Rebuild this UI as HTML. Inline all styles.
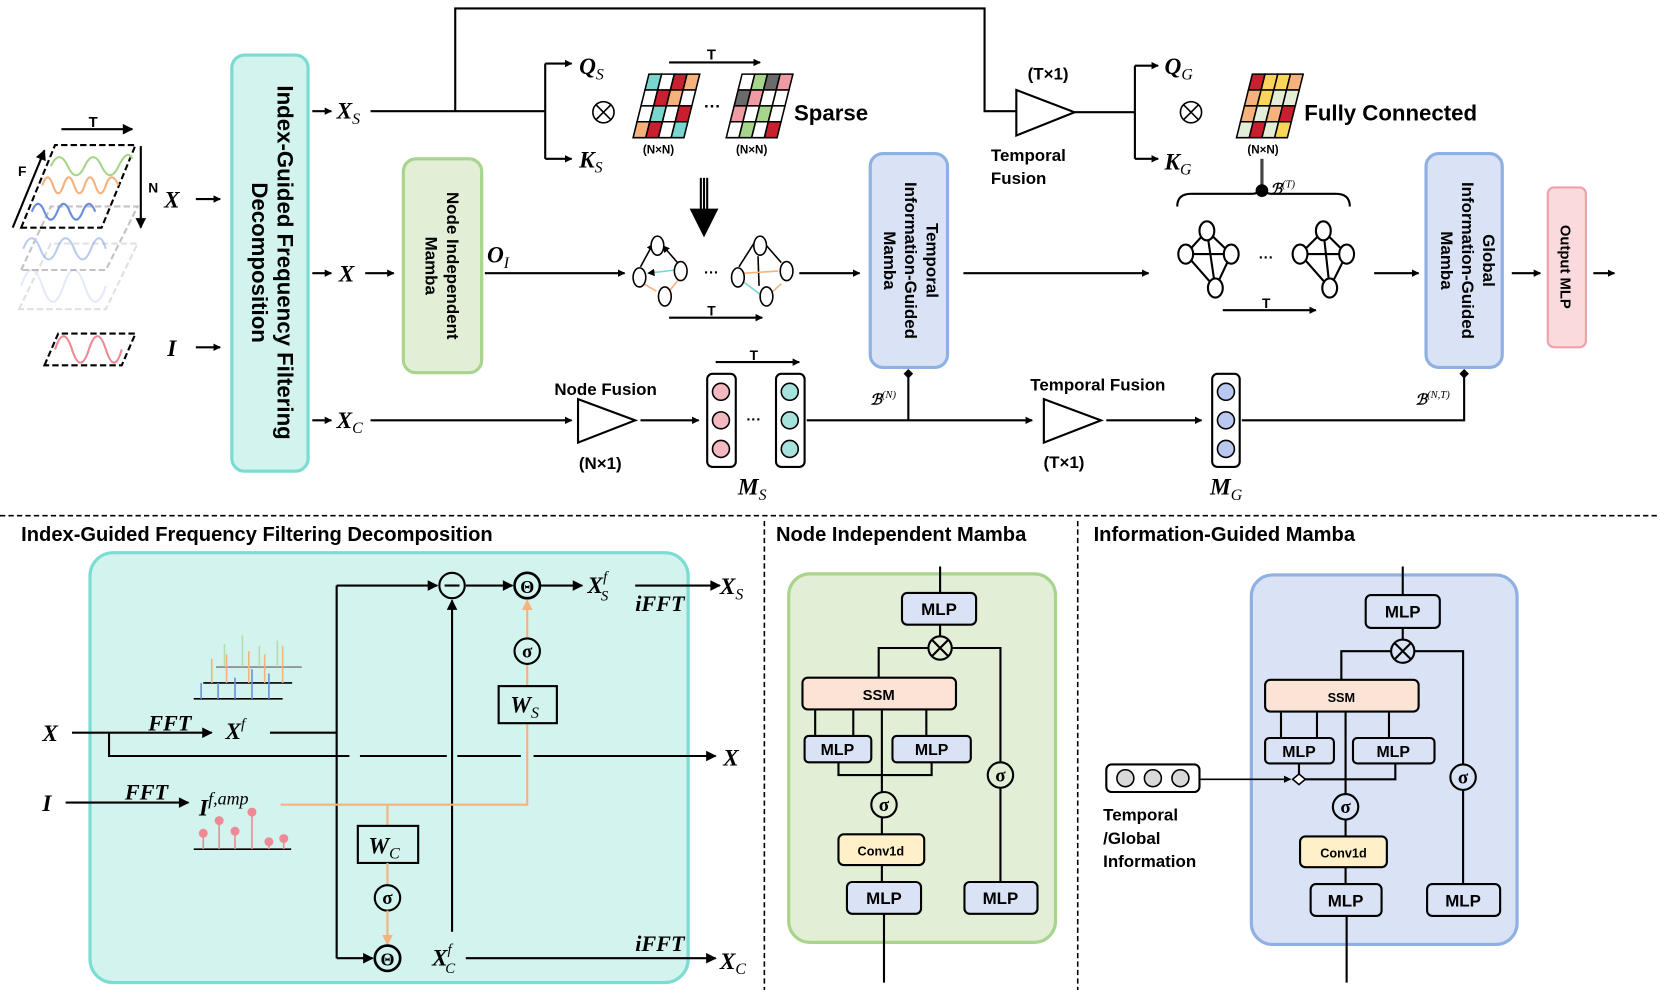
<!DOCTYPE html>
<html><head><meta charset="utf-8"><style>
html,body{margin:0;padding:0;background:#fff}
svg{display:block}
.b{font-family:"Liberation Sans",sans-serif;font-weight:bold}
.m{font-family:"Liberation Serif",serif;font-style:italic;font-weight:bold}
</style></head><body>
<svg width="1660" height="990" viewBox="0 0 1568 935" preserveAspectRatio="none" xmlns="http://www.w3.org/2000/svg">
<defs>
<marker id="a" viewBox="0 0 10 10" refX="9" refY="5" markerWidth="7" markerHeight="7" orient="auto" markerUnits="userSpaceOnUse"><path d="M0,0L10,5L0,10z" fill="#000"/></marker>
<marker id="ab" viewBox="0 0 10 10" refX="9" refY="5" markerWidth="12" markerHeight="10" orient="auto" markerUnits="userSpaceOnUse"><path d="M0,0L10,5L0,10z" fill="#000"/></marker>
<marker id="ao" viewBox="0 0 10 10" refX="9" refY="5" markerWidth="11" markerHeight="10" orient="auto" markerUnits="userSpaceOnUse"><path d="M0,0L10,5L0,10z" fill="#f5b27c"/></marker>
<marker id="dm" viewBox="0 0 10 10" refX="5" refY="5" markerWidth="9" markerHeight="9" orient="auto" markerUnits="userSpaceOnUse"><path d="M0,5L5,0L10,5L5,10z" fill="#000"/></marker>
</defs>
<g stroke="#000" stroke-width="2" fill="none">

<!-- input stack -->
<g stroke-width="2">
<line x1="58" y1="122" x2="125" y2="122" marker-end="url(#ab)"/>
<line x1="133" y1="138" x2="133" y2="215" marker-end="url(#ab)"/>
<line x1="12" y1="215" x2="42" y2="142" marker-end="url(#ab)"/>
<g opacity="0.25" stroke="#888"><path d="M18,292 L48,230 L130,230 L100,292z" stroke-dasharray="6 3"/><path d="M20,270 Q30,240 40,270 T60,270 T80,270 T100,270" stroke="#9ab0e6"/></g>
<g opacity="0.5" stroke="#888"><path d="M20,255 L48,195 L130,195 L100,255z" stroke-dasharray="6 3"/><path d="M22,235 Q30,215 38,235 T54,235 T70,235 T86,235 T100,235" stroke="#7a98e0"/></g>
<path d="M20,215 L52,137 L128,137 L96,215z" stroke-dasharray="6 3"/>
<path d="M48,157 Q56,140 64,157 T80,157 T96,157 T112,157 T125,150" stroke="#a7d58c"/>
<path d="M40,175 Q45,160 50,175 T60,175 T70,175 T80,175 T90,175 T100,175 T112,175" stroke="#f5b27c"/>
<path d="M30,200 Q36,185 42,200 T54,200 T66,200 T78,200 T90,200" stroke="#6a8ede"/>
<path d="M42,345 L55,315 L128,315 L115,345z" stroke-dasharray="6 3"/>
<path d="M52,330 Q60,305 68,330 T84,330 T100,330 T115,330" stroke="#ee8a96"/>
</g>
<line x1="185" y1="188" x2="208" y2="188" marker-end="url(#a)"/>
<line x1="185" y1="328" x2="208" y2="328" marker-end="url(#a)"/>

<!-- big boxes -->
<rect x="219" y="52" width="72" height="393" rx="12" fill="#d3f3ee" stroke="#7adcd3" stroke-width="3"/>
<rect x="381" y="150" width="74" height="202" rx="12" fill="#e2efd6" stroke="#a9d48c" stroke-width="3"/>
<rect x="822" y="145" width="73" height="202" rx="12" fill="#dae3f5" stroke="#8fb0e3" stroke-width="3"/>
<rect x="1347" y="145" width="72" height="202" rx="12" fill="#dae3f5" stroke="#8fb0e3" stroke-width="3"/>
<rect x="1462" y="177" width="36" height="151" rx="6" fill="#fadadd" stroke="#f0a0a8" stroke-width="2"/>

<line x1="295" y1="105" x2="313" y2="105" marker-end="url(#a)"/>
<line x1="295" y1="258" x2="313" y2="258" marker-end="url(#a)"/>
<line x1="295" y1="397" x2="313" y2="397" marker-end="url(#a)"/>
<line x1="345" y1="258" x2="372" y2="258" marker-end="url(#a)"/>

<!-- Xs path -->
<path d="M350,105 H515"/>
<path d="M515,60 V150"/>
<line x1="515" y1="60" x2="540" y2="60" marker-end="url(#a)"/>
<line x1="515" y1="150" x2="540" y2="150" marker-end="url(#a)"/>
<path d="M430,105 V8 H930 V105 H960"/>
<path d="M960,85 L1015,106 L960,128z" fill="#fff"/>
<path d="M1015,106 H1072 M1072,62 V150"/>
<line x1="1072" y1="62" x2="1094" y2="62" marker-end="url(#a)"/>
<line x1="1072" y1="150" x2="1094" y2="150" marker-end="url(#a)"/>
<circle cx="570" cy="106" r="10" stroke-width="1.5"/><path d="M563,99 L577,113 M577,99 L563,113" stroke-width="1.5"/>
<circle cx="1125" cy="106" r="10" stroke-width="1.5"/><path d="M1118,99 L1132,113 M1132,99 L1118,113" stroke-width="1.5"/>
<line x1="632" y1="59" x2="718" y2="59" marker-end="url(#a)"/>

<!-- matrices -->
<g transform="translate(598,130) skewX(-14)" stroke-width="1.5">
<rect x="0" y="-60" width="12" height="15" fill="#78d6cf"/><rect x="12" y="-60" width="12" height="15" fill="#fff"/><rect x="24" y="-60" width="12" height="15" fill="#c8202f"/><rect x="36" y="-60" width="12" height="15" fill="#f5b27c"/>
<rect x="0" y="-45" width="12" height="15" fill="#fff"/><rect x="12" y="-45" width="12" height="15" fill="#c8202f"/><rect x="24" y="-45" width="12" height="15" fill="#f5b27c"/><rect x="36" y="-45" width="12" height="15" fill="#fff"/>
<rect x="0" y="-30" width="12" height="15" fill="#fff"/><rect x="12" y="-30" width="12" height="15" fill="#78d6cf"/><rect x="24" y="-30" width="12" height="15" fill="#fff"/><rect x="36" y="-30" width="12" height="15" fill="#c8202f"/>
<rect x="0" y="-15" width="12" height="15" fill="#f5b27c"/><rect x="12" y="-15" width="12" height="15" fill="#c8202f"/><rect x="24" y="-15" width="12" height="15" fill="#fff"/><rect x="36" y="-15" width="12" height="15" fill="#78d6cf"/>
</g>
<g transform="translate(686,130) skewX(-14)" stroke-width="1.5">
<rect x="0" y="-60" width="12" height="15" fill="#fff"/><rect x="12" y="-60" width="12" height="15" fill="#a7d58c"/><rect x="24" y="-60" width="12" height="15" fill="#6b6b6b"/><rect x="36" y="-60" width="12" height="15" fill="#f09aa4"/>
<rect x="0" y="-45" width="12" height="15" fill="#6b6b6b"/><rect x="12" y="-45" width="12" height="15" fill="#f09aa4"/><rect x="24" y="-45" width="12" height="15" fill="#fff"/><rect x="36" y="-45" width="12" height="15" fill="#fff"/>
<rect x="0" y="-30" width="12" height="15" fill="#f09aa4"/><rect x="12" y="-30" width="12" height="15" fill="#fff"/><rect x="24" y="-30" width="12" height="15" fill="#a7d58c"/><rect x="36" y="-30" width="12" height="15" fill="#fff"/>
<rect x="0" y="-15" width="12" height="15" fill="#fff"/><rect x="12" y="-15" width="12" height="15" fill="#a7d58c"/><rect x="24" y="-15" width="12" height="15" fill="#fff"/><rect x="36" y="-15" width="12" height="15" fill="#c8202f"/>
</g>
<g transform="translate(1168,130) skewX(-14)" stroke-width="1.5">
<rect x="0" y="-60" width="12" height="15" fill="#c8202f"/><rect x="12" y="-60" width="12" height="15" fill="#fbd45a"/><rect x="24" y="-60" width="12" height="15" fill="#fbd45a"/><rect x="36" y="-60" width="12" height="15" fill="#f5b27c"/>
<rect x="0" y="-45" width="12" height="15" fill="#f5b27c"/><rect x="12" y="-45" width="12" height="15" fill="#fbd45a"/><rect x="24" y="-45" width="12" height="15" fill="#e2efd6"/><rect x="36" y="-45" width="12" height="15" fill="#e2efd6"/>
<rect x="0" y="-30" width="12" height="15" fill="#f5b27c"/><rect x="12" y="-30" width="12" height="15" fill="#e2efd6"/><rect x="24" y="-30" width="12" height="15" fill="#f5b27c"/><rect x="36" y="-30" width="12" height="15" fill="#c8202f"/>
<rect x="0" y="-15" width="12" height="15" fill="#e2efd6"/><rect x="12" y="-15" width="12" height="15" fill="#c8202f"/><rect x="24" y="-15" width="12" height="15" fill="#e2efd6"/><rect x="36" y="-15" width="12" height="15" fill="#fbd45a"/>
</g>

<!-- triple arrow -->
<path d="M662,168 V200 M665,168 V200 M668,168 V200"/>
<path d="M653,198 L677,198 L665,222z" fill="#000"/>

<!-- sparse graphs -->
<line x1="458" y1="258" x2="590" y2="258" marker-end="url(#a)"/>
<g stroke-width="1.5" fill="#fff">
<line x1="605" y1="252" x2="617" y2="230" marker-end="url(#a)"/><line x1="640" y1="248" x2="626" y2="232" marker-end="url(#a)"/>
<line x1="638" y1="255" x2="612" y2="258" stroke="#78d6cf" marker-end="url(#a)"/>
<line x1="608" y1="268" x2="620" y2="275" stroke="#f5b27c"/><line x1="640" y1="265" x2="633" y2="274" stroke="#f5b27c"/>
<ellipse cx="621" cy="232" rx="6" ry="9"/><ellipse cx="604" cy="262" rx="6" ry="9"/><ellipse cx="643" cy="256" rx="6" ry="9"/><ellipse cx="628" cy="280" rx="6" ry="9"/>
<line x1="698" y1="252" x2="712" y2="230"/><line x1="717" y1="270" x2="716" y2="242"/><line x1="738" y1="248" x2="724" y2="232"/>
<line x1="703" y1="258" x2="735" y2="256" stroke="#f5b27c"/><line x1="702" y1="266" x2="718" y2="278" stroke="#78d6cf"/><line x1="728" y1="277" x2="738" y2="268" stroke="#f5b27c"/>
<ellipse cx="718" cy="232" rx="6" ry="9"/><ellipse cx="697" cy="262" rx="6" ry="9"/><ellipse cx="743" cy="256" rx="6" ry="9"/><ellipse cx="724" cy="280" rx="6" ry="9"/>
</g>
<line x1="632" y1="300" x2="720" y2="300" marker-end="url(#a)"/>
<line x1="755" y1="258" x2="812" y2="258" marker-end="url(#a)"/>
<line x1="910" y1="258" x2="1085" y2="258" marker-end="url(#a)"/>

<!-- full graphs -->
<path d="M1112,195 Q1112,183 1125,183 H1183 Q1192,183 1192,172 Q1192,183 1201,183 H1262 Q1275,183 1275,195"/>
<line x1="1192" y1="150" x2="1192" y2="180" stroke-width="3" stroke="#444"/>
<circle cx="1192" cy="180" r="5" fill="#000"/>
<g stroke-width="2" fill="#fff">
<path d="M1120,240 L1140,218 L1163,240 L1148,272 Z M1120,240 L1163,240 M1140,218 L1148,272" />
<ellipse cx="1140" cy="218" rx="7" ry="9"/><ellipse cx="1120" cy="240" rx="7" ry="9"/><ellipse cx="1163" cy="240" rx="7" ry="9"/><ellipse cx="1148" cy="272" rx="7" ry="9"/>
<path d="M1228,240 L1250,218 L1272,240 L1256,272 Z M1228,240 L1272,240 M1250,218 L1256,272"/>
<ellipse cx="1250" cy="218" rx="7" ry="9"/><ellipse cx="1228" cy="240" rx="7" ry="9"/><ellipse cx="1272" cy="240" rx="7" ry="9"/><ellipse cx="1256" cy="272" rx="7" ry="9"/>
</g>
<line x1="1155" y1="293" x2="1243" y2="293" marker-end="url(#a)"/>
<line x1="1298" y1="258" x2="1340" y2="258" marker-end="url(#a)"/>
<line x1="1428" y1="258" x2="1455" y2="258" marker-end="url(#a)"/>
<line x1="1505" y1="258" x2="1525" y2="258" marker-end="url(#a)"/>

<!-- bottom row of top -->
<line x1="350" y1="397" x2="540" y2="397" marker-end="url(#a)"/>
<path d="M546,377 L600,397 L546,418z" fill="#fff"/>
<line x1="605" y1="397" x2="660" y2="397" marker-end="url(#a)"/>
<line x1="676" y1="342" x2="755" y2="342" marker-end="url(#a)"/>
<rect x="668" y="353" width="27" height="88" rx="5"/>
<rect x="733" y="353" width="27" height="88" rx="5"/>
<g stroke-width="1.5"><circle cx="681" cy="370" r="8" fill="#f4b8c0"/><circle cx="681" cy="397" r="8" fill="#f4b8c0"/><circle cx="681" cy="424" r="8" fill="#f4b8c0"/>
<circle cx="746" cy="370" r="8" fill="#a6e3dc"/><circle cx="746" cy="397" r="8" fill="#a6e3dc"/><circle cx="746" cy="424" r="8" fill="#a6e3dc"/></g>
<line x1="762" y1="397" x2="975" y2="397" marker-end="url(#a)"/>
<line x1="858" y1="397" x2="858" y2="353" marker-end="url(#dm)"/>
<path d="M986,377 L1040,397 L986,418z" fill="#fff"/>
<line x1="1045" y1="397" x2="1135" y2="397" marker-end="url(#a)"/>
<rect x="1145" y="353" width="26" height="88" rx="5"/>
<g stroke-width="1.5"><circle cx="1158" cy="370" r="8" fill="#b8c8ee"/><circle cx="1158" cy="397" r="8" fill="#b8c8ee"/><circle cx="1158" cy="424" r="8" fill="#b8c8ee"/></g>
<path d="M1173,397 H1383 V353" marker-end="url(#dm)"/>

<!-- dividers -->
<line x1="0" y1="487" x2="1568" y2="487" stroke-width="1.5" stroke-dasharray="5 3"/>
<line x1="722" y1="492" x2="722" y2="935" stroke-width="1.5" stroke-dasharray="5 3"/>
<line x1="1018" y1="492" x2="1018" y2="935" stroke-width="1.5" stroke-dasharray="5 3"/>

<!-- panel 1 -->
<rect x="85" y="522" width="565" height="406" rx="22" fill="#d3f3ee" stroke="#7adcd3" stroke-width="3"/>
<line x1="68" y1="692" x2="200" y2="692" marker-end="url(#ab)"/>
<path d="M255,692 H318 M318,553 V905"/>
<line x1="318" y1="553" x2="413" y2="553" marker-end="url(#ab)"/>
<circle cx="427" cy="553" r="12" stroke-width="2"/><path d="M420,553 H434"/>
<line x1="440" y1="553" x2="484" y2="553" marker-end="url(#ab)"/>
<circle cx="498" cy="553" r="12" stroke-width="2.5"/>
<line x1="511" y1="553" x2="550" y2="553" marker-end="url(#ab)"/>
<line x1="600" y1="553" x2="680" y2="553" marker-end="url(#ab)"/>
<path d="M103,692 V714 H330 M340,714 H422 M432,714 H492 M504,714"/>
<line x1="504" y1="714" x2="676" y2="714" marker-end="url(#ab)"/>
<line x1="427" y1="880" x2="427" y2="567" marker-end="url(#ab)"/>
<line x1="62" y1="758" x2="178" y2="758" marker-end="url(#ab)"/>
<path d="M265,760 H498 V683 M366,760 V780" stroke="#f5b27c"/>
<line x1="498" y1="602" x2="498" y2="567" stroke="#f5b27c" marker-end="url(#ao)"/>
<line x1="498" y1="648" x2="498" y2="628" stroke="#f5b27c"/>
<rect x="471" y="648" width="55" height="35" fill="none"/>
<circle cx="498" cy="615" r="12"/>
<rect x="338" y="780" width="57" height="35"/>
<line x1="366" y1="815" x2="366" y2="836" stroke="#f5b27c"/>
<circle cx="366" cy="848" r="12"/>
<line x1="366" y1="860" x2="366" y2="892" stroke="#f5b27c" marker-end="url(#ao)"/>
<circle cx="366" cy="905" r="12" stroke-width="2.5"/>
<line x1="318" y1="905" x2="352" y2="905" marker-end="url(#ab)"/>
<line x1="440" y1="905" x2="676" y2="905" marker-end="url(#ab)"/>
<!-- spectra -->
<g stroke-width="1.5">
<line x1="204" y1="630" x2="285" y2="630" stroke="#888"/>
<line x1="192" y1="645" x2="276" y2="645"/>
<line x1="183" y1="660" x2="267" y2="660"/>
<g stroke="#a7d58c" opacity="0.7"><line x1="212" y1="630" x2="212" y2="608"/><line x1="229" y1="630" x2="229" y2="600"/><line x1="245" y1="630" x2="245" y2="610"/><line x1="262" y1="630" x2="262" y2="605"/></g>
<g stroke="#f5b27c"><line x1="200" y1="645" x2="200" y2="622"/><line x1="214" y1="645" x2="214" y2="618"/><line x1="235" y1="645" x2="235" y2="615"/><line x1="250" y1="645" x2="250" y2="618"/><line x1="267" y1="645" x2="267" y2="610"/></g>
<g stroke="#6a8ede"><line x1="190" y1="660" x2="190" y2="645"/><line x1="206" y1="660" x2="206" y2="645"/><line x1="222" y1="660" x2="222" y2="640"/><line x1="238" y1="660" x2="238" y2="632"/><line x1="254" y1="660" x2="254" y2="636"/></g>
<line x1="183" y1="802" x2="275" y2="802"/>
<g stroke="#ee8a96" fill="#ee8a96"><line x1="192" y1="802" x2="192" y2="787"/><circle cx="192" cy="787" r="3.5"/><line x1="207" y1="802" x2="207" y2="775"/><circle cx="207" cy="775" r="3.5"/><line x1="222" y1="802" x2="222" y2="785"/><circle cx="222" cy="785" r="3.5"/><line x1="238" y1="802" x2="238" y2="767"/><circle cx="238" cy="767" r="3.5"/><line x1="254" y1="802" x2="254" y2="797"/><circle cx="254" cy="795" r="3.5"/><line x1="268" y1="802" x2="268" y2="793"/><circle cx="268" cy="792" r="3.5"/></g>
</g>

<!-- panel 2 -->
<rect x="745" y="542" width="252" height="348" rx="20" fill="#e2efd6" stroke="#a9d48c" stroke-width="3"/>
<path d="M888,535 V560 M888,590 V601 M877,612 H830 V640 M899,612 H945 V720 M945,744 V833"/>
<circle cx="888" cy="612" r="11"/><path d="M880,604 L896,620 M896,604 L880,620"/>
<path d="M770,670 V695 M806,670 V695 M875,670 V695 M792,720 V732 H880 V720 M833,670 V748 M833,772 V788 M833,817 V833 M835,863 V928"/>
<circle cx="945" cy="732" r="12"/><circle cx="835" cy="760" r="12"/>
<g stroke-width="2">
<rect x="852" y="560" width="70" height="30" rx="5" fill="#dae3f5"/>
<rect x="758" y="640" width="145" height="30" rx="5" fill="#fbe3d6"/>
<rect x="760" y="695" width="63" height="25" rx="4" fill="#dae3f5"/>
<rect x="843" y="695" width="74" height="25" rx="4" fill="#dae3f5"/>
<rect x="792" y="788" width="81" height="29" rx="5" fill="#fff0c8"/>
<rect x="800" y="833" width="70" height="30" rx="5" fill="#dae3f5"/>
<rect x="911" y="833" width="69" height="30" rx="5" fill="#dae3f5"/>
</g>

<!-- panel 3 -->
<rect x="1182" y="543" width="251" height="349" rx="20" fill="#dae3f5" stroke="#8fb0e3" stroke-width="3"/>
<path d="M1325,535 V562 M1325,593 V604 M1314,615 H1267 V642 M1336,615 H1382 V722 M1382,746 V835"/>
<circle cx="1325" cy="615" r="11"/><path d="M1317,607 L1333,623 M1333,607 L1317,623"/>
<path d="M1210,672 V697 M1244,672 V697 M1312,672 V697 M1227,721 V736 H1318 V721 M1271,672 V750 M1271,774 V790 M1271,819 V835 M1272,865 V928"/>
<path d="M1227,731 L1233,736 L1227,741 L1221,736z" fill="#fff" stroke-width="1.5"/>
<line x1="1133" y1="736" x2="1219" y2="736" stroke-width="1.5" marker-end="url(#a)"/>
<circle cx="1382" cy="734" r="12"/><circle cx="1271" cy="762" r="12"/>
<g stroke-width="2">
<rect x="1290" y="562" width="70" height="31" rx="5" fill="#dae3f5"/>
<rect x="1195" y="642" width="145" height="30" rx="5" fill="#fbe3d6"/>
<rect x="1195" y="697" width="65" height="24" rx="4" fill="#dae3f5"/>
<rect x="1278" y="697" width="77" height="24" rx="4" fill="#dae3f5"/>
<rect x="1228" y="790" width="82" height="29" rx="5" fill="#fff0c8"/>
<rect x="1238" y="835" width="67" height="30" rx="5" fill="#dae3f5"/>
<rect x="1348" y="835" width="69" height="30" rx="5" fill="#dae3f5"/>
</g>
<rect x="1045" y="722" width="88" height="26" rx="5" stroke-width="2"/>
<g stroke-width="1.5" fill="#d9d9d9"><circle cx="1063" cy="735" r="8"/><circle cx="1089" cy="735" r="8"/><circle cx="1115" cy="735" r="8"/></g>
</g>

<!-- TEXT -->
<g class="b" fill="#000">
<text x="88" y="120" font-size="14" text-anchor="middle">T</text>
<text x="140" y="182" font-size="13">N</text>
<text x="17" y="166" font-size="13">F</text>
<text transform="translate(262,248) rotate(90)" font-size="21" text-anchor="middle">Index-Guided Frequency Filtering</text>
<text transform="translate(238,248) rotate(90)" font-size="21" text-anchor="middle">Decomposition</text>
<text transform="translate(422,251) rotate(90)" font-size="16" text-anchor="middle">Node Independent</text>
<text transform="translate(402,251) rotate(90)" font-size="16" text-anchor="middle">Mamba</text>
<text transform="translate(875,246) rotate(90)" font-size="16" text-anchor="middle">Temporal</text>
<text transform="translate(855,246) rotate(90)" font-size="16" text-anchor="middle">Information-Guided</text>
<text transform="translate(835,246) rotate(90)" font-size="16" text-anchor="middle">Mamba</text>
<text transform="translate(1401,246) rotate(90)" font-size="16" text-anchor="middle">Global</text>
<text transform="translate(1381,246) rotate(90)" font-size="16" text-anchor="middle">Information-Guided</text>
<text transform="translate(1361,246) rotate(90)" font-size="16" text-anchor="middle">Mamba</text>
<text transform="translate(1474,252) rotate(90)" font-size="14" text-anchor="middle">Output MLP</text>
<text x="672" y="56" font-size="14" text-anchor="middle">T</text>
<text x="622" y="145" font-size="11" text-anchor="middle">(N×N)</text>
<text x="710" y="145" font-size="11" text-anchor="middle">(N×N)</text>
<text x="1193" y="145" font-size="11" text-anchor="middle">(N×N)</text>
<text x="673" y="106" font-size="16" text-anchor="middle">···</text>
<text x="672" y="262" font-size="14" text-anchor="middle">···</text>
<text x="1196" y="248" font-size="14" text-anchor="middle">···</text>
<text x="712" y="401" font-size="14" text-anchor="middle">···</text>
<text x="750" y="114" font-size="21">Sparse</text>
<text x="1232" y="114" font-size="21">Fully Connected</text>
<text x="990" y="75" font-size="16" text-anchor="middle">(T×1)</text>
<text x="936" y="152" font-size="16">Temporal</text>
<text x="936" y="174" font-size="16">Fusion</text>
<text x="672" y="298" font-size="13" text-anchor="middle">T</text>
<text x="1196" y="291" font-size="13" text-anchor="middle">T</text>
<text x="712" y="340" font-size="13" text-anchor="middle">T</text>
<text x="572" y="373" font-size="16" text-anchor="middle">Node Fusion</text>
<text x="567" y="443" font-size="16" text-anchor="middle">(N×1)</text>
<text x="1037" y="369" font-size="16" text-anchor="middle">Temporal Fusion</text>
<text x="1005" y="442" font-size="16" text-anchor="middle">(T×1)</text>
<text x="20" y="511" font-size="19">Index-Guided Frequency Filtering Decomposition</text>
<text x="733" y="511" font-size="19">Node Independent Mamba</text>
<text x="1033" y="511" font-size="19">Information-Guided Mamba</text>
<text x="1042" y="775" font-size="16">Temporal</text>
<text x="1042" y="797" font-size="16">/Global</text>
<text x="1042" y="819" font-size="16">Information</text>
<g text-anchor="middle">
<text x="887" y="581" font-size="16">MLP</text>
<text x="830" y="661" font-size="14">SSM</text>
<text x="791" y="713" font-size="15">MLP</text>
<text x="880" y="713" font-size="15">MLP</text>
<text x="832" y="808" font-size="12">Conv1d</text>
<text x="835" y="854" font-size="16">MLP</text>
<text x="945" y="854" font-size="16">MLP</text>
<text x="1325" y="583" font-size="16">MLP</text>
<text x="1267" y="663" font-size="12">SSM</text>
<text x="1227" y="715" font-size="15">MLP</text>
<text x="1316" y="715" font-size="15">MLP</text>
<text x="1269" y="810" font-size="12">Conv1d</text>
<text x="1271" y="856" font-size="16">MLP</text>
<text x="1382" y="856" font-size="16">MLP</text>
</g>
</g>

<g class="m" fill="#000">
<text x="155" y="196" font-size="22">X</text>
<text x="158" y="336" font-size="22">I</text>
<text x="318" y="112" font-size="22">X<tspan font-size="15" dy="5" font-weight="normal">S</tspan></text>
<text x="320" y="266" font-size="22">X</text>
<text x="318" y="404" font-size="22">X<tspan font-size="15" dy="5" font-weight="normal">C</tspan></text>
<text x="460" y="248" font-size="22">O<tspan font-size="15" dy="5" font-weight="normal">I</tspan></text>
<text x="547" y="70" font-size="22">Q<tspan font-size="15" dy="5" font-weight="normal">S</tspan></text>
<text x="547" y="158" font-size="22">K<tspan font-size="15" dy="5" font-weight="normal">S</tspan></text>
<text x="1100" y="70" font-size="22">Q<tspan font-size="15" dy="5" font-weight="normal">G</tspan></text>
<text x="1100" y="160" font-size="22">K<tspan font-size="15" dy="5" font-weight="normal">G</tspan></text>
<text x="697" y="467" font-size="22">M<tspan font-size="15" dy="5" font-weight="normal">S</tspan></text>
<text x="1143" y="467" font-size="22">M<tspan font-size="15" dy="5" font-weight="normal">G</tspan></text>
<text x="822" y="382" font-size="14">ℬ<tspan font-size="10" dy="-6" font-weight="normal">(N)</tspan></text>
<text x="1200" y="183" font-size="14">ℬ<tspan font-size="10" dy="-6" font-weight="normal">(T)</tspan></text>
<text x="1337" y="382" font-size="14">ℬ<tspan font-size="10" dy="-6" font-weight="normal">(N,T)</tspan></text>
<text x="40" y="700" font-size="22">X</text>
<text x="140" y="690" font-size="21">FFT</text>
<text x="213" y="698" font-size="22">X<tspan font-size="14" dy="-10" font-weight="normal">f</tspan></text>
<text x="683" y="723" font-size="22">X</text>
<text x="40" y="766" font-size="22">I</text>
<text x="118" y="755" font-size="21">FFT</text>
<text x="188" y="770" font-size="22">I<tspan font-size="17" dy="-10" font-weight="normal">f,amp</tspan></text>
<text x="555" y="560" font-size="22">X<tspan font-size="14" dy="-11" font-weight="normal">f</tspan><tspan font-size="14" dx="-6" dy="18" font-weight="normal">S</tspan></text>
<text x="600" y="577" font-size="21">iFFT</text>
<text x="680" y="561" font-size="22">X<tspan font-size="15" dy="5" font-weight="normal">S</tspan></text>
<text x="482" y="673" font-size="22">W<tspan font-size="15" dy="5" font-weight="normal">S</tspan></text>
<text x="348" y="806" font-size="22">W<tspan font-size="15" dy="5" font-weight="normal">C</tspan></text>
<text x="408" y="912" font-size="22">X<tspan font-size="14" dy="-11" font-weight="normal">f</tspan><tspan font-size="14" dx="-6" dy="18" font-weight="normal">C</tspan></text>
<text x="600" y="898" font-size="21">iFFT</text>
<text x="680" y="915" font-size="22">X<tspan font-size="15" dy="5" font-weight="normal">C</tspan></text>
</g>
<g font-family="Liberation Serif,serif" font-weight="bold" text-anchor="middle" fill="#000">
<text x="498" y="560" font-size="17">Θ</text>
<text x="366" y="912" font-size="17">Θ</text>
<text x="498" y="621" font-size="18">σ</text>
<text x="366" y="854" font-size="18">σ</text>
<text x="945" y="738" font-size="18">σ</text>
<text x="835" y="766" font-size="18">σ</text>
<text x="1382" y="740" font-size="18">σ</text>
<text x="1271" y="768" font-size="18">σ</text>
</g>
</svg>
</body></html>
